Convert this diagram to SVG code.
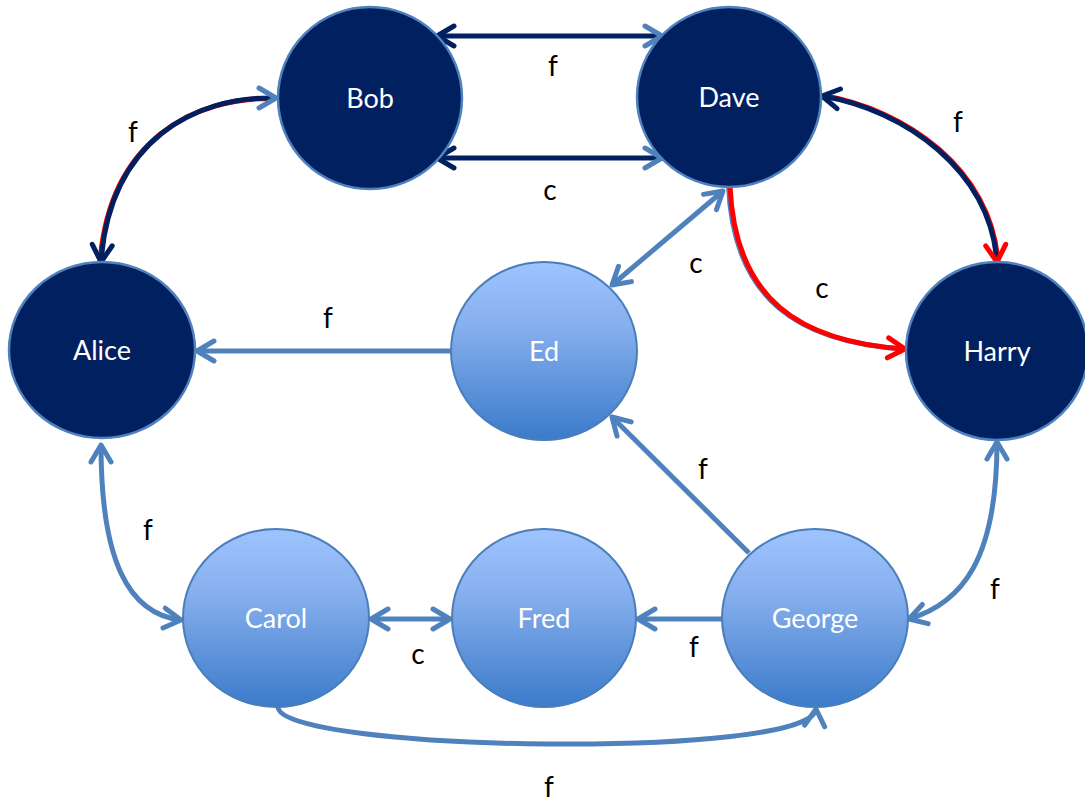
<svg xmlns="http://www.w3.org/2000/svg" width="1085" height="801" viewBox="0 0 1085 801">
  <style>
    .dark { fill: #002060; stroke: #4F81BD; stroke-width: 2.5; }
    .light { fill: url(#lightFill); stroke: #4A7EBB; stroke-width: 2; }
    .name { font-family: Lato, "Liberation Sans", sans-serif; font-size: 27px; fill: #ffffff; text-anchor: middle; }
    .lbl { font-family: Lato, "Liberation Sans", sans-serif; font-size: 28px; fill: #000000; text-anchor: middle; }
    .e { fill: none; stroke-width: 5; }
    .eL { stroke: #4F81BD; }
    .eD { stroke: #002060; }
    .eR { stroke: #FF0000; }
    .fringeR { fill: none; stroke: #FF0000; stroke-width: 5; }
    .fringeB { fill: none; stroke: #4F81BD; stroke-width: 5; }
  </style>
  <defs>
    <linearGradient id="lightFill" x1="0" y1="0" x2="0" y2="1">
      <stop offset="0" stop-color="#9EC4FF"/>
      <stop offset="0.35" stop-color="#88B0EE"/>
      <stop offset="1" stop-color="#3B7BCA"/>
    </linearGradient>
    <marker id="arrL" markerUnits="userSpaceOnUse" viewBox="-20 -20 40 40" markerWidth="40" markerHeight="40" refX="0" refY="0" orient="auto-start-reverse" overflow="visible">
      <path d="M-17,-10 L0,0 L-17,10" fill="none" stroke="#4F81BD" stroke-width="5" stroke-linecap="round" stroke-linejoin="round"/>
    </marker>
    <marker id="arrD" markerUnits="userSpaceOnUse" viewBox="-20 -20 40 40" markerWidth="40" markerHeight="40" refX="0" refY="0" orient="auto-start-reverse" overflow="visible">
      <path d="M-17,-10 L0,0 L-17,10" fill="none" stroke="#002060" stroke-width="5" stroke-linecap="round" stroke-linejoin="round"/>
    </marker>
    <marker id="arrR" markerUnits="userSpaceOnUse" viewBox="-20 -20 40 40" markerWidth="40" markerHeight="40" refX="0" refY="0" orient="auto-start-reverse" overflow="visible">
      <path d="M-17,-10 L0,0 L-17,10" fill="none" stroke="#FF0000" stroke-width="5" stroke-linecap="round" stroke-linejoin="round"/>
    </marker>
  </defs>

  <rect width="1085" height="801" fill="#ffffff"/>

  <!-- connectors and their labels -->
  <g id="connectors">
    <!-- Bob / Dave, f -->
    <g id="edge-bob-dave-f">
      <path class="e eD" d="M437,36 L662,36" marker-start="url(#arrD)" marker-end="url(#arrL)"/>
      <text class="lbl" x="553" y="76">f</text>
    </g>
    <!-- Bob / Dave, c -->
    <g id="edge-bob-dave-c">
      <path class="e eD" d="M437,158 L662,158" marker-start="url(#arrD)" marker-end="url(#arrL)"/>
      <text class="lbl" x="550" y="200">c</text>
    </g>
    <!-- Bob / Alice, f -->
    <g id="edge-bob-alice">
      <path class="fringeR" transform="translate(-1,0.5)" d="M276,98 C195,96 110,140 101,262"/>
      <path class="e eD" d="M276,98 C195,96 110,140 101,262" marker-end="url(#arrD)"/>
      <path d="M259,88 L276,98 L259,108" fill="none" stroke="#4F81BD" stroke-width="5" stroke-linecap="round" stroke-linejoin="round"/>
      <text class="lbl" x="133" y="142">f</text>
    </g>
    <!-- Dave / Harry, f -->
    <g id="edge-dave-harry-f">
      <path class="fringeR" transform="translate(1,-0.5)" d="M822,96 C905,110 990,170 997,262"/>
      <path class="e eD" d="M822,96 C905,110 990,170 997,262" marker-start="url(#arrD)" marker-end="url(#arrR)"/>
      <text class="lbl" x="958" y="132">f</text>
    </g>
    <!-- Dave to Harry, c (highlighted) -->
    <g id="edge-dave-harry-c">
      <path class="fringeB" transform="translate(-1.5,0)" d="M730,186 C735,300 800,342 905,349"/>
      <path class="e eR" d="M730,186 C735,300 800,342 905,349" marker-end="url(#arrR)"/>
      <text class="lbl" x="822" y="298">c</text>
    </g>
    <!-- Ed / Dave, c -->
    <g id="edge-ed-dave">
      <path class="e eL" d="M612,285 L723,191" marker-start="url(#arrL)" marker-end="url(#arrL)"/>
      <text class="lbl" x="696" y="273">c</text>
    </g>
    <!-- Ed to Alice, f -->
    <g id="edge-ed-alice">
      <path class="e eL" d="M451,351 L197,351" marker-end="url(#arrL)"/>
      <text class="lbl" x="328" y="328">f</text>
    </g>
    <!-- George to Ed, f -->
    <g id="edge-george-ed">
      <path class="e eL" d="M749,553 L612,417" marker-end="url(#arrL)"/>
      <text class="lbl" x="703" y="479">f</text>
    </g>
    <!-- Alice / Carol, f -->
    <g id="edge-alice-carol">
      <path class="e eL" d="M101,445 C101,560 128,614 181,620" marker-start="url(#arrL)" marker-end="url(#arrL)"/>
      <text class="lbl" x="148" y="540">f</text>
    </g>
    <!-- Carol / Fred, c -->
    <g id="edge-carol-fred">
      <path class="e eL" d="M371,619 L450,619" marker-start="url(#arrL)" marker-end="url(#arrL)"/>
      <text class="lbl" x="418" y="664">c</text>
    </g>
    <!-- George to Fred, f -->
    <g id="edge-george-fred">
      <path class="e eL" d="M722,619 L638,619" marker-end="url(#arrL)"/>
      <text class="lbl" x="694" y="657">f</text>
    </g>
    <!-- Harry / George, f -->
    <g id="edge-harry-george">
      <path class="e eL" d="M997,442 C997,560 962,603 909,619" marker-start="url(#arrL)" marker-end="url(#arrL)"/>
      <text class="lbl" x="995" y="599">f</text>
    </g>
    <!-- Carol to George, f -->
    <g id="edge-carol-george">
      <path class="e eL" d="M278,707 C280,752 812,760 816,709" marker-end="url(#arrL)"/>
      <text class="lbl" x="549" y="797">f</text>
    </g>
  </g>

  <!-- people -->
  <g id="node-bob">
    <ellipse class="dark" cx="370" cy="98" rx="92" ry="91"/>
    <text class="name" x="370" y="108">Bob</text>
  </g>
  <g id="node-dave">
    <ellipse class="dark" cx="729" cy="97" rx="92" ry="90"/>
    <text class="name" x="729" y="107">Dave</text>
  </g>
  <g id="node-alice">
    <ellipse class="dark" cx="102" cy="350" rx="93" ry="88"/>
    <text class="name" x="102" y="360">Alice</text>
  </g>
  <g id="node-ed">
    <ellipse class="light" cx="544" cy="351" rx="93" ry="89"/>
    <text class="name" x="544" y="361">Ed</text>
  </g>
  <g id="node-harry">
    <ellipse class="dark" cx="997" cy="351" rx="91" ry="89"/>
    <text class="name" x="997" y="361">Harry</text>
  </g>
  <g id="node-carol">
    <ellipse class="light" cx="276" cy="618" rx="93" ry="89"/>
    <text class="name" x="276" y="628">Carol</text>
  </g>
  <g id="node-fred">
    <ellipse class="light" cx="544" cy="618" rx="92" ry="89"/>
    <text class="name" x="544" y="628">Fred</text>
  </g>
  <g id="node-george">
    <ellipse class="light" cx="815" cy="618" rx="93" ry="89"/>
    <text class="name" x="815" y="628">George</text>
  </g>
</svg>
